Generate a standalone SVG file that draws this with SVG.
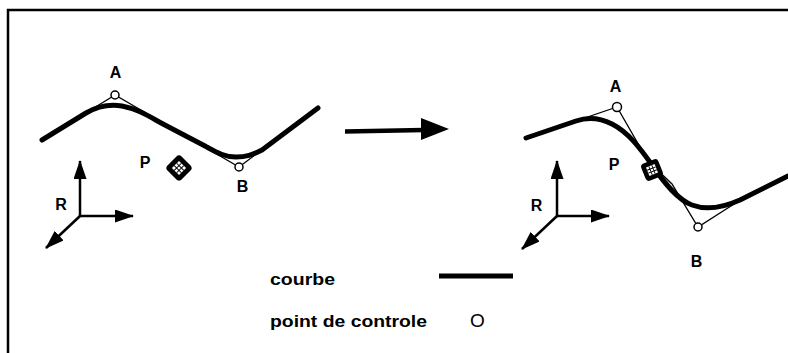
<svg xmlns="http://www.w3.org/2000/svg" xmlns:xlink="http://www.w3.org/1999/xlink" width="788" height="353" viewBox="0 0 788 353">
<style>
.lbl{font-family:"Liberation Sans",Arial,sans-serif;font-weight:bold;font-size:16px;fill:#000;text-anchor:middle}
.leg{font-family:"Liberation Sans",Arial,sans-serif;font-weight:bold;font-size:17px;fill:#000}
.thin{fill:none;stroke:#000;stroke-width:1.3;stroke-linejoin:miter}
.thick{fill:none;stroke:#000;stroke-width:5;stroke-linecap:round;stroke-linejoin:round}
.cp{fill:#fff;stroke:#000;stroke-width:1.5}
.ax{fill:none;stroke:#000;stroke-width:2.5}
</style>
<defs>
<marker id="ah" markerUnits="userSpaceOnUse" markerWidth="20" markerHeight="14" refX="18" refY="6.5" orient="auto">
<path d="M0,0 L19,6.5 L0,13 z" fill="#000"/>
</marker>
<g id="pmark">
<rect x="-10" y="-10" width="20" height="20" rx="4" fill="#000"/>
<rect x="-5" y="-5" width="10" height="10" fill="#fff"/>
<path d="M-1.7,-5V5M1.7,-5V5M-5,-1.7H5M-5,1.7H5" stroke="#000" stroke-width="1"/>
</g>
</defs>

<g id="frame">
<path d="M8,353 V10 H788" fill="none" stroke="#000" stroke-width="2.5"/>
</g>

<g id="left-curve">
<path class="thin" d="M42,140 L115,95 L239,167 L318,108"/>
<path class="thick" d="M42,140 L86,113 C98,106 110,104 122,106 C138,109 150,117 163,124 L205,146 C216,152 224,157 236,157 C246,157 252,155 262,150 L318,108"/>
<circle class="cp" cx="115" cy="95" r="4"/>
<circle class="cp" cx="239" cy="167" r="4"/>
<use xlink:href="#pmark" transform="translate(179,168) rotate(45)"/>
<text class="lbl" x="115.5" y="78">A</text>
<text class="lbl" x="145" y="168">P</text>
<text class="lbl" x="242.5" y="192">B</text>
</g>

<g id="left-axes">
<path class="ax" d="M80,216 V161" marker-end="url(#ah)"/>
<path class="ax" d="M80,216 H133" marker-end="url(#ah)"/>
<path class="ax" d="M80,216 L46,248" marker-end="url(#ah)"/>
<text class="lbl" x="61" y="210">R</text>
</g>

<g id="connectors">
<path d="M345,131.5 L424,130" fill="none" stroke="#000" stroke-width="4.5"/>
<path d="M421,118 L449,129 L421,140 z" fill="#000"/>
</g>

<g id="right-curve">
<path class="thin" d="M526,138 L617,107 L648,161 L672,184 L698,227 L745,197"/>
<path class="thick" d="M526,138 L576,121 C588,117 600,118 612,124 C628,132 640,148 652,165 C665,184 678,200 692,205 C705,210 722,208 740,200 L788,176"/>
<circle class="cp" cx="617" cy="107" r="4.5"/>
<circle class="cp" cx="698" cy="227" r="4"/>
<use xlink:href="#pmark" transform="translate(652,170) rotate(-22) scale(0.92)"/>
<text class="lbl" x="615.5" y="92">A</text>
<text class="lbl" x="614" y="170">P</text>
<text class="lbl" x="696.5" y="267">B</text>
</g>

<g id="right-axes">
<path class="ax" d="M557,216 V161" marker-end="url(#ah)"/>
<path class="ax" d="M557,216 H609" marker-end="url(#ah)"/>
<path class="ax" d="M557,216 L522,249" marker-end="url(#ah)"/>
<text class="lbl" x="536.5" y="211">R</text>
</g>

<g id="legend">
<text class="leg" x="270" y="285" textLength="65" lengthAdjust="spacingAndGlyphs">courbe</text>
<line x1="439" y1="276" x2="513" y2="276" stroke="#000" stroke-width="5"/>
<text class="leg" x="270" y="327" textLength="157" lengthAdjust="spacingAndGlyphs">point de controle</text>
<text x="477.5" y="327" font-family="'Liberation Sans',Arial,sans-serif" font-size="19" text-anchor="middle" fill="#000">O</text>
</g>
</svg>
